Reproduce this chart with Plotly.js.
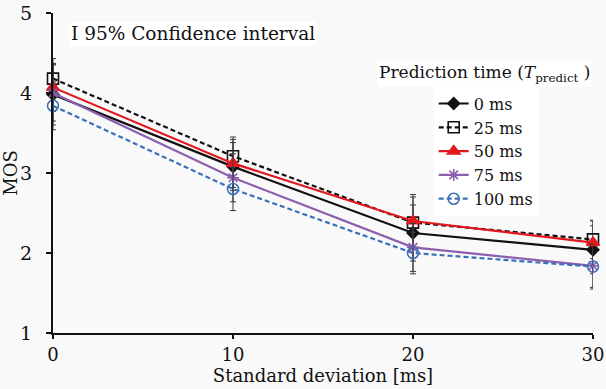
<!DOCTYPE html>
<html>
<head>
<meta charset="utf-8">
<script src="https://cdn.plot.ly/plotly-3.0.1.min.js"></script>
<style>
  html, body { margin: 0; padding: 0; background: #f9f9f9; }
  #chart { width: 606px; height: 389px; }
</style>
</head>
<body>
<div id="chart"></div>
<script>
// Standard deviation of network delay [ms]
const stdDev = [0, 10, 20, 30];

// Prediction times shown in the legend
const seriesNames = ['0 ms', '25 ms', '50 ms', '75 ms', '100 ms'];

// Mean opinion scores per prediction time
const mos0   = [3.98, 3.08, 2.25, 2.04];
const mos25  = [4.18, 3.21, 2.38, 2.17];
const mos50  = [4.07, 3.12, 2.40, 2.13];
const mos75  = [4.00, 2.94, 2.07, 1.84];
const mos100 = [3.84, 2.80, 2.00, 1.83];

// Half-widths of the 95% confidence intervals
const ci0   = [0.38, 0.30, 0.35, 0.30];
const ci25  = [0.25, 0.24, 0.32, 0.24];
const ci50  = [0.30, 0.30, 0.33, 0.27];
const ci75  = [0.35, 0.30, 0.30, 0.27];
const ci100 = [0.30, 0.27, 0.26, 0.28];

const serif = 'DejaVu Serif';

function series(name, y, ci, color, dash, symbol, size) {
  return {
    x: stdDev, y: y, name: name, type: 'scatter', mode: 'lines+markers',
    line: { color: color, width: 2.2, dash: dash },
    marker: { symbol: symbol, size: size, color: color,
              line: { color: color, width: 1.6 } },
    error_y: { type: 'data', array: ci, visible: true,
               color: '#3a3a3a', thickness: 1, width: 3 },
    cliponaxis: false
  };
}

const traces = [
  series(seriesNames[0], mos0,   ci0,   '#111111', 'solid', 'diamond', 9),
  series(seriesNames[1], mos25,  ci25,  '#111111', '5px,3px', 'square-open', 11),
  series(seriesNames[2], mos50,  ci50,  '#e3181f', 'solid', 'triangle-up', 11),
  series(seriesNames[3], mos75,  ci75,  '#8c5fae', 'solid', 'asterisk-open', 10),
  series(seriesNames[4], mos100, ci100, '#3a71b8', '5px,3px', 'circle-open', 11)
];

const layout = {
  width: 606, height: 389,
  margin: { l: 53, r: 13, t: 13, b: 56 },
  paper_bgcolor: '#f9f9f9',
  plot_bgcolor: '#f9f9f9',
  font: { family: serif, color: '#111', size: 18 },
  showlegend: true,
  legend: {
    x: 0.705, y: 0.77, xanchor: 'left', yanchor: 'top',
    bgcolor: 'rgba(255,255,255,0.9)',
    font: { family: serif, size: 16, color: '#111' },
    itemwidth: 30, tracegroupgap: 0
  },
  xaxis: {
    range: [0, 30], tickvals: stdDev, ticktext: stdDev.map(String),
    showgrid: false, zeroline: false,
    showline: true, linecolor: '#111', linewidth: 2,
    ticks: 'outside', ticklen: 4, tickwidth: 1.5, tickcolor: '#111',
    tickfont: { family: serif, size: 18 },
    title: { text: 'Standard deviation [ms]', font: { family: serif, size: 18 }, standoff: 5 }
  },
  yaxis: {
    range: [1, 5], tickvals: [1, 2, 3, 4, 5],
    showgrid: false, zeroline: false,
    showline: true, linecolor: '#111', linewidth: 2,
    ticks: 'outside', ticklen: 5, tickwidth: 1.5, tickcolor: '#111',
    ticklabelstandoff: 10,
    tickfont: { family: serif, size: 19 },
    title: { text: 'MOS', font: { family: serif, size: 18 }, standoff: 2 }
  },
  annotations: [
    {
      xref: 'paper', yref: 'paper', x: 0.03, y: 0.935, xanchor: 'left', yanchor: 'middle',
      text: 'I 95% Confidence interval', showarrow: false,
      bgcolor: 'rgba(255,255,255,0.9)',
      font: { family: serif, size: 18.5, color: '#111' }
    },
    {
      xref: 'paper', yref: 'paper', x: 0.6, y: 0.81, xanchor: 'left', yanchor: 'middle',
      text: 'Prediction time (<i>T</i><sub>predict</sub> )', showarrow: false,
      bgcolor: 'rgba(255,255,255,0.9)',
      font: { family: serif, size: 17, color: '#111' }
    }
  ]
};

Plotly.newPlot('chart', traces, layout, { staticPlot: true, displayModeBar: false });
</script>
</body>
</html>
